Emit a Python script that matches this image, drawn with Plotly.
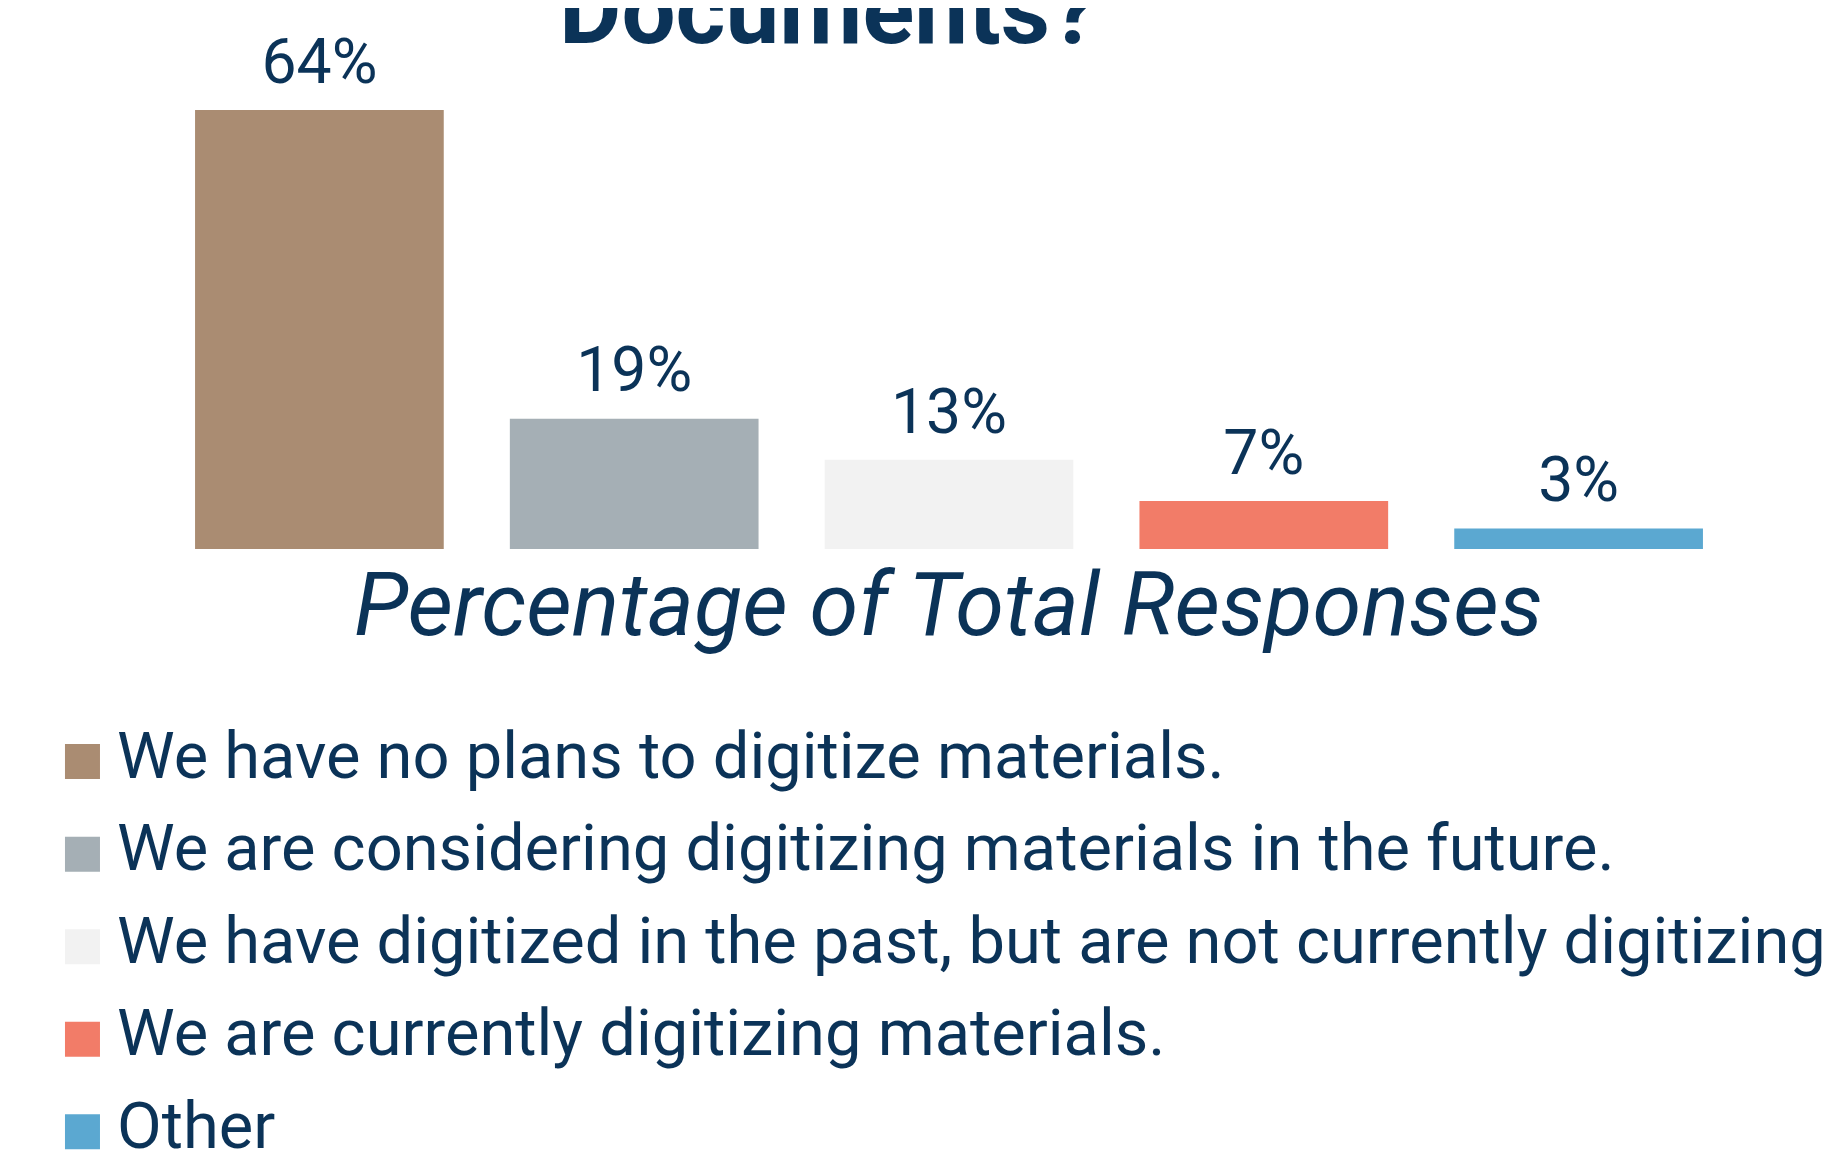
import plotly.graph_objects as go

# ---- data ----
categories = [
    "We have no plans to digitize materials.",
    "We are considering digitizing materials in the future.",
    "We have digitized in the past, but are not currently digitizing.",
    "We are currently digitizing materials.",
    "Other",
]
values = [64, 19, 13, 7, 3]
colors = ["#AA8C72", "#A5AFB5", "#F2F2F2", "#F27C68", "#5BA8D1"]
title_text = "Documents?"
axis_title = "Percentage of Total Responses"

# page body has an 8px margin, so the figure is placed at (8, 8)
W, H = 1827, 1150
NAVY = "#0B3358"
FONT = "Roboto"

fig = go.Figure()

# bars
fig.add_trace(go.Bar(
    x=categories, y=values,
    marker=dict(color=colors, line=dict(width=0)),
    showlegend=False, hoverinfo="skip",
    xaxis="x", yaxis="y",
))

# value labels above bars
fig.add_trace(go.Scatter(
    x=categories, y=values,
    mode="markers+text",
    text=[f"{v}%" for v in values],
    textposition="top center",
    textfont=dict(family=FONT, size=62.5, color=NAVY),
    marker=dict(size=17, opacity=0),
    showlegend=False, hoverinfo="skip", cliponaxis=False,
    xaxis="x", yaxis="y",
))

# custom legend (drawn on its own hidden axes)
rows = list(range(len(categories)))
fig.add_trace(go.Scatter(
    x=[0] * len(categories), y=rows,
    mode="markers",
    marker=dict(symbol="square", size=35, color=colors, line=dict(width=0)),
    showlegend=False, hoverinfo="skip", cliponaxis=False,
    xaxis="x2", yaxis="y2",
))
fig.add_trace(go.Scatter(
    x=[1] * len(categories), y=rows,
    mode="text",
    text=categories,
    textposition="middle right",
    textfont=dict(family=FONT, size=65, color=NAVY),
    showlegend=False, hoverinfo="skip", cliponaxis=False,
    xaxis="x2", yaxis="y2",
))

fig.update_layout(
    width=W, height=H,
    margin=dict(l=0, r=0, t=0, b=0),
    paper_bgcolor="white", plot_bgcolor="rgba(0,0,0,0)",
    bargap=0.21,
    showlegend=False,
    font=dict(family=FONT, color=NAVY),
    xaxis=dict(domain=[154 / W, 1728 / W], showticklabels=False, showgrid=False,
               zeroline=False, showline=False, ticks=""),
    yaxis=dict(domain=[(H - 541) / H, (H - 102) / H], range=[0, 64], visible=False,
               showgrid=False, zeroline=False),
    xaxis2=dict(domain=[0, 1], range=[-2.159, 50.80], visible=False, anchor="y2"),
    yaxis2=dict(domain=[0, 1], range=[4.285, -8.147], visible=False, anchor="x2"),
    annotations=[
        dict(text=f"<b>{title_text}</b>", xref="paper", yref="paper",
             x=820 / W, y=(H - 60.4) / H, xanchor="center", yanchor="bottom",
             showarrow=False, font=dict(family=FONT, size=96, color=NAVY)),
        dict(text=f"<i>{axis_title}</i>", xref="x domain", yref="paper",
             x=0.5, y=(H - 650.6) / H, xanchor="center", yanchor="bottom",
             showarrow=False, font=dict(family=FONT, size=88.5, color=NAVY)),
    ],
)

fig.write_html("out.html")
